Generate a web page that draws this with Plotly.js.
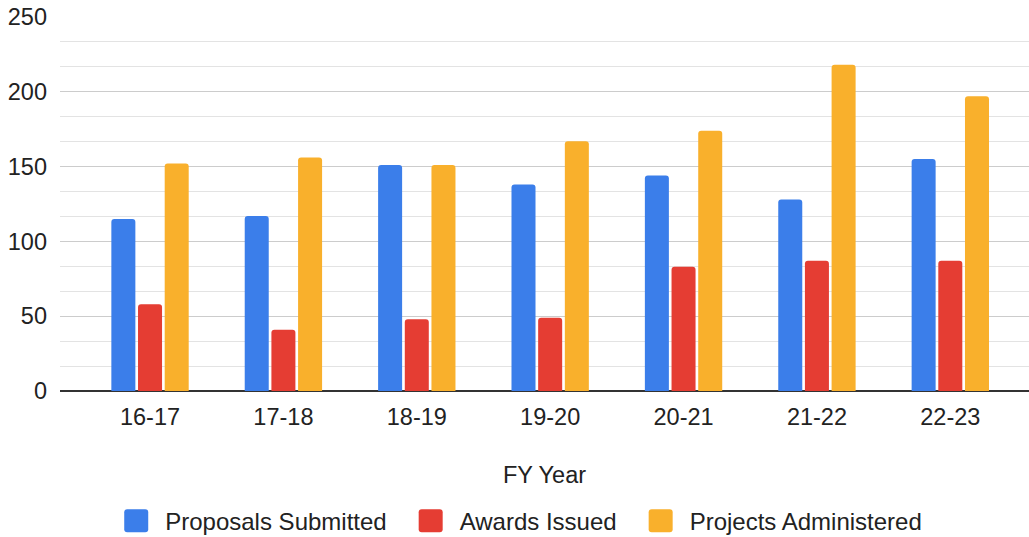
<!DOCTYPE html>
<html>
<head>
<meta charset="utf-8">
<script src="https://cdn.plot.ly/plotly-3.0.1.min.js"></script>
<style>html,body{margin:0;padding:0;background:#fff;}#chart{width:1029px;height:537px;}</style>
</head>
<body>
<div id="chart"></div>
<script>
const categories = ["16-17", "17-18", "18-19", "19-20", "20-21", "21-22", "22-23"];
const proposalsSubmitted = [115, 117, 151, 138, 144, 128, 155];
const awardsIssued = [58, 41, 48, 49, 83, 87, 87];
const projectsAdministered = [152, 156, 151, 167, 174, 218, 197];
const seriesNames = ["Proposals Submitted", "Awards Issued", "Projects Administered"];
const yTicks = [0, 50, 100, 150, 200, 250];

const colors = ["#3B7EEA", "#E53D33", "#F9B02C"];
const font = "Liberation Sans, Arial, Helvetica, sans-serif";
const textColor = "#222222";
const seriesData = [proposalsSubmitted, awardsIssued, projectsAdministered];

const traces = seriesData.map((vals, i) => ({
  type: "bar",
  name: seriesNames[i],
  x: categories,
  y: vals,
  marker: {color: colors[i], line: {width: 0}},
  hoverinfo: "x+y+name"
}));

const layout = {
  width: 1029,
  height: 537,
  margin: {l: 60, r: 0, t: 17, b: 146, autoexpand: false},
  paper_bgcolor: "#ffffff",
  plot_bgcolor: "#ffffff",
  font: {family: font, size: 23.5, color: textColor},
  barmode: "group",
  bargap: 0.4,
  bargroupgap: 0.1,
  barcornerradius: 3,
  showlegend: true,
  legend: {
    orientation: "h",
    x: 0.5, xanchor: "center",
    y: -0.348, yanchor: "middle",
    font: {family: font, size: 24, color: textColor}
  },
  xaxis: {
    type: "category",
    range: [-0.675, 6.59],
    automargin: false,
    showgrid: false,
    showline: false,
    zeroline: false,
    ticks: "",
    ticklabelstandoff: 9,
    tickfont: {family: font, size: 23.5, color: textColor},
    title: {text: "FY Year", font: {family: font, size: 23.5, color: textColor}, standoff: 38}
  },
  yaxis: {
    range: [0, 250],
    automargin: false,
    tickvals: yTicks,
    ticktext: yTicks.map(String),
    showgrid: true,
    gridcolor: "#cccccc",
    gridwidth: 1,
    zeroline: true,
    zerolinecolor: "#333333",
    zerolinewidth: 2,
    showline: false,
    ticks: "",
    ticklabelstandoff: 12,
    tickfont: {family: font, size: 23.5, color: textColor},
    minor: {dtick: 50/3, tick0: 0, showgrid: true, gridcolor: "#e3e3e3", gridwidth: 1, ticks: ""}
  }
};

function restyleLegend(gd) {
  const legend = gd.querySelector(".legend");
  if (!legend) return;
  const scroll = legend.querySelector(".scrollbox");
  if (scroll) scroll.removeAttribute("clip-path");
  legend.setAttribute("clip-path", "");
  const m = /translate\(([-\d.]+)[ ,]+([-\d.]+)\)/.exec(legend.getAttribute("transform") || "");
  const lx = m ? parseFloat(m[1]) : 0;
  const items = Array.from(legend.querySelectorAll(".traces"));
  const sym = 24, symH = 23, symGap = 17, itemGap = 32, center = 523;
  const widths = items.map(it => {
    const t = it.querySelector("text.legendtext");
    return t ? t.getComputedTextLength() : 0;
  });
  const total = widths.reduce((a, w) => a + sym + symGap + w, 0) + itemGap * (items.length - 1);
  let x = center - total / 2;
  items.forEach((it, i) => {
    const tm = /translate\(([-\d.]+)[ ,]+([-\d.]+)\)/.exec(it.getAttribute("transform") || "");
    const ty = tm ? parseFloat(tm[2]) : 0;
    it.setAttribute("transform", "translate(" + (x - lx) + "," + ty + ")");
    const pts = it.querySelector(".legendpoints");
    if (pts) pts.style.display = "none";
    const rect = document.createElementNS("http://www.w3.org/2000/svg", "rect");
    rect.setAttribute("x", 0);
    rect.setAttribute("y", -symH / 2);
    rect.setAttribute("width", sym);
    rect.setAttribute("height", symH);
    rect.setAttribute("rx", 3);
    rect.setAttribute("fill", colors[i]);
    it.insertBefore(rect, it.firstChild);
    const t = it.querySelector("text.legendtext");
    if (t) t.setAttribute("x", sym + symGap);
    x += sym + symGap + widths[i] + itemGap;
  });
}

Plotly.newPlot("chart", traces, layout, {displayModeBar: false, staticPlot: true}).then(restyleLegend);
</script>
</body>
</html>
